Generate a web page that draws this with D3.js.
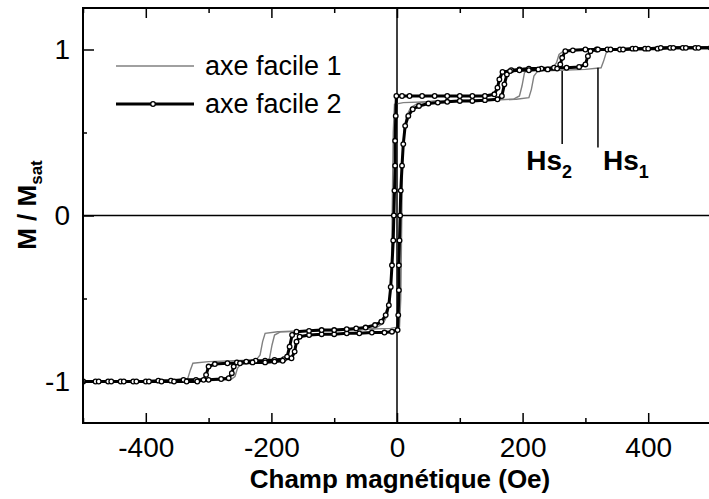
<!DOCTYPE html>
<html lang="fr">
<head>
<meta charset="UTF-8">
<title>Cycles M / Msat</title>
<script src="https://d3js.org/d3.v7.min.js"></script>
<style>
    body { margin: 0; background: #fff; }
    text { font-family: "Liberation Sans", Arial, sans-serif; fill: #000; }
    .tick text { font-size: 28px; }
    .axis path { display: none; }
    .axis line { stroke: #000; stroke-width: 1.5px; }
</style>
</head>
<body>
<svg id="chart"></svg>
<script>
// axe facile 1 (gris) : branche montante puis descendante, [H (Oe), M/Msat]
var facile1Up = [[-500,-1.0],[-400,-1.0],[-300,-0.995],[-265,-0.99],[-258,-0.97],[-254,-0.92],[-248,-0.89],
    [-230,-0.885],[-210,-0.88],[-203,-0.86],[-199,-0.78],[-195,-0.72],[-185,-0.70],[-150,-0.695],[-100,-0.69],
    [-50,-0.685],[-10,-0.68],[4,-0.67],[6,-0.5],[7,-0.2],[8,0.1],[9,0.35],[11,0.5],[15,0.6],[22,0.65],[35,0.68],
    [60,0.69],[120,0.695],[190,0.70],[210,0.71],[214,0.76],[218,0.84],[224,0.87],[260,0.875],[300,0.88],
    [325,0.89],[329,0.93],[333,0.98],[340,1.0],[400,1.005],[500,1.01]];
var facile1Down = [[500,1.01],[400,1.005],[300,1.0],[265,0.99],[258,0.97],[254,0.92],[248,0.89],[230,0.885],
    [210,0.88],[203,0.86],[199,0.78],[195,0.72],[185,0.70],[150,0.695],[100,0.69],[50,0.685],[10,0.68],
    [-4,0.67],[-6,0.5],[-7,0.2],[-8,-0.1],[-9,-0.35],[-11,-0.5],[-15,-0.6],[-22,-0.65],[-35,-0.68],[-60,-0.69],
    [-120,-0.695],[-190,-0.70],[-210,-0.71],[-214,-0.76],[-218,-0.84],[-224,-0.87],[-260,-0.875],[-300,-0.88],
    [-325,-0.89],[-329,-0.93],[-333,-0.98],[-340,-1.0],[-400,-1.0],[-500,-1.0]];

// axe facile 2 (noir, cercles)
var facile2Up = [[-500,-1.0],[-480,-1.0],[-460,-1.0],[-440,-1.0],[-420,-1.0],[-400,-1.0],[-380,-0.995],
    [-360,-0.995],[-340,-0.99],[-320,-0.99],[-300,-0.99],[-280,-0.985],[-268,-0.98],[-263,-0.95],[-260,-0.91],
    [-255,-0.885],[-240,-0.88],[-225,-0.875],[-210,-0.875],[-195,-0.87],[-180,-0.865],[-168,-0.86],[-163,-0.82],
    [-160,-0.76],[-155,-0.73],[-140,-0.72],[-120,-0.715],[-100,-0.715],[-80,-0.71],[-60,-0.71],[-40,-0.705],
    [-20,-0.705],[-8,-0.70],[1,-0.69],[2,-0.6],[3,-0.45],[3,-0.3],[4,-0.15],[5,0.0],[6,0.15],[8,0.3],[10,0.43],
    [13,0.54],[18,0.6],[25,0.64],[35,0.66],[50,0.675],[65,0.68],[80,0.685],[100,0.69],[120,0.69],[140,0.695],
    [160,0.70],[167,0.72],[171,0.79],[175,0.85],[182,0.875],[195,0.88],[210,0.885],[230,0.885],[250,0.89],
    [270,0.89],[290,0.895],[300,0.91],[304,0.96],[308,0.99],[318,1.0],[335,1.0],[355,1.0],[375,1.005],
    [395,1.005],[415,1.005],[435,1.01],[455,1.01],[475,1.01],[500,1.01]];
var facile2Down = [[500,1.01],[480,1.01],[460,1.01],[440,1.01],[420,1.01],[400,1.005],[380,1.005],
    [360,1.0],[340,1.0],[320,1.0],[300,1.0],[280,0.995],[268,0.99],[263,0.95],[260,0.91],[255,0.885],
    [240,0.88],[225,0.88],[210,0.875],[195,0.875],[180,0.87],[168,0.865],[163,0.82],[160,0.77],[155,0.73],
    [140,0.72],[120,0.72],[100,0.72],[80,0.72],[60,0.72],[40,0.72],[20,0.72],[8,0.72],[-1,0.72],[-2,0.6],
    [-3,0.45],[-3,0.3],[-4,0.15],[-5,0.0],[-6,-0.15],[-8,-0.3],[-10,-0.43],[-13,-0.54],[-18,-0.6],[-25,-0.64],
    [-35,-0.66],[-50,-0.675],[-65,-0.68],[-80,-0.685],[-100,-0.69],[-120,-0.69],[-140,-0.695],[-160,-0.70],
    [-167,-0.72],[-171,-0.79],[-175,-0.85],[-182,-0.875],[-195,-0.88],[-210,-0.885],[-230,-0.885],
    [-250,-0.89],[-270,-0.89],[-290,-0.895],[-300,-0.91],[-304,-0.96],[-308,-0.99],[-318,-1.0],[-335,-1.0],
    [-355,-1.0],[-375,-1.0],[-395,-1.0],[-415,-1.0],[-435,-1.0],[-455,-1.0],[-475,-1.0],[-500,-1.0]];

var xMajor = [-400, -200, 0, 200, 400];
var xMinor = [-500, -300, -100, 100, 300, 500];
var yMajor = [-1, 0, 1];
var yMinor = [-0.5, 0.5];
var legendLabels = ["axe facile 1", "axe facile 2"];
// champs de saturation : [étiquette, indice, H, M haut, M bas]
var hsMarks = [["Hs", "2", 263, 0.87, 0.43], ["Hs", "1", 320, 0.89, 0.41]];

var W = 709, H = 499;
var pLeft = 83, pRight = 711, pTop = 8, pBottom = 423;

var svg = d3.select("#chart").attr("width", W).attr("height", H);

var x = d3.scaleLinear().domain([-500, 500]).range([pLeft, pRight]);
var y = d3.scaleLinear().domain([-1.25, 1.25]).range([pBottom, pTop]);

svg.append("defs").append("clipPath").attr("id", "clip")
    .append("rect").attr("x", pLeft).attr("y", pTop)
    .attr("width", pRight - pLeft).attr("height", pBottom - pTop);

// lignes H = 0 et M = 0
svg.append("line").attr("x1", pLeft).attr("x2", pRight).attr("y1", y(0)).attr("y2", y(0))
    .attr("stroke", "#000").attr("stroke-width", 1.5);
svg.append("line").attr("x1", x(0)).attr("x2", x(0)).attr("y1", pTop).attr("y2", pBottom)
    .attr("stroke", "#000").attr("stroke-width", 1.5);

var line = d3.line().x(function(d) { return x(d[0]); }).y(function(d) { return y(d[1]); });
var plot = svg.append("g").attr("clip-path", "url(#clip)");

// courbe grise
[facile1Up, facile1Down].forEach(function(br) {
    plot.append("path").attr("d", line(br)).attr("fill", "none")
        .attr("stroke", "#808080").attr("stroke-width", 1.4);
});
// courbe noire
[facile2Up, facile2Down].forEach(function(br) {
    plot.append("path").attr("d", line(br)).attr("fill", "none")
        .attr("stroke", "#000").attr("stroke-width", 3);
});
[facile2Up, facile2Down].forEach(function(br) {
    plot.selectAll(null).data(br).enter().append("circle")
        .attr("cx", function(d) { return x(d[0]); })
        .attr("cy", function(d) { return y(d[1]); })
        .attr("r", 2.3).attr("fill", "#fff").attr("stroke", "#000").attr("stroke-width", 1.3);
});

var fmt = function(d) { return String(d); };

// axes (graduations vers l'intérieur)
svg.append("g").attr("class", "axis").attr("transform", "translate(0," + pBottom + ")")
    .call(d3.axisBottom(x).tickValues(xMajor).tickSize(-10).tickPadding(14).tickFormat(fmt));
svg.append("g").attr("class", "axis").attr("transform", "translate(0," + pBottom + ")")
    .call(d3.axisBottom(x).tickValues(xMinor).tickSize(-5).tickFormat(""));
svg.append("g").attr("class", "axis").attr("transform", "translate(0," + pTop + ")")
    .call(d3.axisTop(x).tickValues(xMajor).tickSize(-10).tickFormat(""));
svg.append("g").attr("class", "axis").attr("transform", "translate(0," + pTop + ")")
    .call(d3.axisTop(x).tickValues(xMinor).tickSize(-5).tickFormat(""));
svg.append("g").attr("class", "axis").attr("transform", "translate(" + pLeft + ",0)")
    .call(d3.axisLeft(y).tickValues(yMajor).tickSize(-11).tickPadding(13).tickFormat(fmt));
svg.append("g").attr("class", "axis").attr("transform", "translate(" + pLeft + ",0)")
    .call(d3.axisLeft(y).tickValues(yMinor).tickSize(-4).tickFormat(""));

// cadre
svg.append("rect").attr("x", pLeft).attr("y", pTop).attr("width", pRight - pLeft).attr("height", pBottom - pTop)
    .attr("fill", "none").attr("stroke", "#000").attr("stroke-width", 2);

// titres
svg.append("text").attr("x", 400).attr("y", 488).attr("text-anchor", "middle")
    .attr("font-size", 26).attr("font-weight", "bold").text("Champ magnétique (Oe)");
var yt = svg.append("text").attr("transform", "translate(36,205) rotate(-90)")
    .attr("text-anchor", "middle").attr("font-size", 26).attr("font-weight", "bold");
yt.append("tspan").text("M / M");
yt.append("tspan").attr("font-size", 17).attr("dy", 6).text("sat");

// légende
var leg = svg.append("g");
legendLabels.forEach(function(lab, i) {
    var ly = 66 + i * 38;
    leg.append("line").attr("x1", 116).attr("x2", 194).attr("y1", ly).attr("y2", ly)
        .attr("stroke", i === 0 ? "#808080" : "#000").attr("stroke-width", i === 0 ? 1.4 : 3);
    if (i === 1) {
        leg.append("circle").attr("cx", 153).attr("cy", ly).attr("r", 2.3)
            .attr("fill", "#fff").attr("stroke", "#000").attr("stroke-width", 1.3);
    }
    leg.append("text").attr("x", 205).attr("y", ly).attr("dy", "0.35em")
        .attr("font-size", 27).text(lab);
});

// repères Hs
hsMarks.forEach(function(m, i) {
    svg.append("line").attr("x1", x(m[2])).attr("x2", x(m[2]))
        .attr("y1", y(m[3])).attr("y2", y(m[4])).attr("stroke", "#000").attr("stroke-width", 1.5);
    var t = svg.append("text").attr("x", i === 0 ? x(m[2]) - 36 : x(m[2]) + 5).attr("y", 170)
        .attr("font-size", 28).attr("font-weight", "bold");
    t.append("tspan").text(m[0]);
    t.append("tspan").attr("font-size", 18).attr("dy", 8).text(m[1]);
});
</script>
</body>
</html>
